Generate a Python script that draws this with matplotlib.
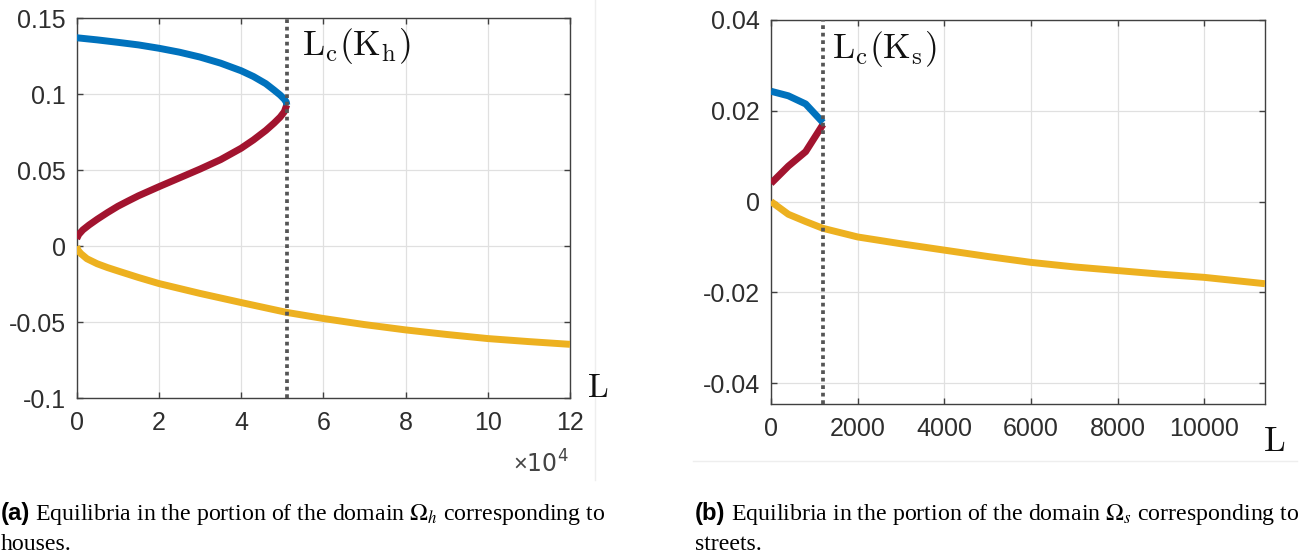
import matplotlib
matplotlib.use("Agg")
import matplotlib.pyplot as plt
from matplotlib.ticker import FixedLocator

plt.rcParams['mathtext.fontset'] = 'custom'
plt.rcParams['mathtext.rm'] = 'Liberation Sans'
plt.rcParams['mathtext.it'] = 'Liberation Sans:italic'

# ---------------- data: panel (a) houses ----------------
Lc_h = 51100
h_stable_L = [0, 5000, 10000, 15000, 20000, 25000, 30000, 35000, 40000, 43000,
              46000, 48000, 49500, 50500, 51000, 51100]
h_stable_u = [0.1372, 0.1358, 0.1342, 0.1325, 0.1303, 0.1277, 0.1245, 0.1205,
              0.1155, 0.1117, 0.107, 0.1028, 0.0995, 0.0968, 0.0948, 0.093]
h_unstable_L = [0, 500, 1500, 3000, 5000, 7500, 10000, 12500, 15000, 20000, 25000,
                30000, 35000, 40000, 43000, 46000, 48000, 49500, 50500, 51100]
h_unstable_u = [0.005, 0.0078, 0.0108, 0.0140, 0.0178, 0.0222, 0.0263, 0.0298,
                0.0332, 0.0392, 0.0450, 0.0508, 0.0570, 0.0645, 0.0700, 0.0762,
                0.0810, 0.0850, 0.0885, 0.093]
h_neg_L = [0, 300, 1000, 2500, 5000, 7500, 10000, 15000, 20000, 30000, 40000,
           51100, 60000, 70000, 80000, 90000, 100000, 110000, 120000]
h_neg_u = [0, -0.0025, -0.0048, -0.0082, -0.0115, -0.0140, -0.0162, -0.0205,
           -0.0245, -0.031, -0.037, -0.0435, -0.0475, -0.0515, -0.0550, -0.0580,
           -0.0607, -0.0627, -0.0645]
h_xticks = [0, 20000, 40000, 60000, 80000, 100000, 120000]
h_xticklabels = ['0', '2', '4', '6', '8', '10', '12']
h_yticks = [-0.1, -0.05, 0, 0.05, 0.1, 0.15]
h_yticklabels = ['-0.1', '-0.05', '0', '0.05', '0.1', '0.15']

# ---------------- data: panel (b) streets ----------------
Lc_s = 1200
s_stable_L = [0, 400, 800, 1200]
s_stable_u = [0.0243, 0.0233, 0.0215, 0.0174]
s_unstable_L = [0, 400, 800, 1200]
s_unstable_u = [0.004, 0.0078, 0.011, 0.0170]
s_neg_L = [0, 400, 800, 1200, 2000, 3000, 4000, 5000, 6000, 7000, 8000, 9000,
           10000, 11400]
s_neg_u = [0, -0.0028, -0.0044, -0.0059, -0.0078, -0.0093, -0.0107, -0.0121,
           -0.0134, -0.0144, -0.0152, -0.0160, -0.0167, -0.0181]
s_xticks = [0, 2000, 4000, 6000, 8000, 10000]
s_xticklabels = ['0', '2000', '4000', '6000', '8000', '10000']
s_yticks = [-0.04, -0.02, 0, 0.02, 0.04]
s_yticklabels = ['-0.04', '-0.02', '0', '0.02', '0.04']

BLUE = '#0072BD'
RED = '#A2142F'
YEL = '#EDB120'
TXT = '#2e2e2e'

W, H = 1300, 558
fig = plt.figure(figsize=(W / 100, H / 100), dpi=100)


def px_axes(x0, x1, ytop, ybot):
    return fig.add_axes([x0 / W, 1 - ybot / H, (x1 - x0) / W, (ybot - ytop) / H])


def style(ax, xt, xtl, yt, ytl, fs):
    ax.xaxis.set_major_locator(FixedLocator(xt))
    ax.set_xticklabels(xtl)
    ax.yaxis.set_major_locator(FixedLocator(yt))
    ax.set_yticklabels(ytl)
    ax.tick_params(direction='in', length=4, width=1, colors='#404040',
                   labelcolor=TXT, labelsize=fs, top=True, right=True,
                   labelfontfamily='Liberation Sans')
    ax.tick_params(axis='x', pad=9)
    ax.tick_params(axis='y', pad=8)
    for sp in ax.spines.values():
        sp.set_color('#404040')
        sp.set_linewidth(1.0)
    ax.grid(True, color='#e0e0e0', linewidth=0.9)
    ax.set_axisbelow(True)


lw = 5
# ---- panel (a)
ax1 = px_axes(76.7, 570, 18.3, 398.3)
ax1.plot(h_neg_L, h_neg_u, color=YEL, lw=lw, solid_capstyle='butt', zorder=3)
ax1.plot(h_unstable_L, h_unstable_u, color=RED, lw=lw, solid_capstyle='butt', zorder=3)
ax1.plot(h_stable_L, h_stable_u, color=BLUE, lw=lw, solid_capstyle='butt', zorder=3)
ax1.axvline(Lc_h, color='#555555', lw=2.7, linestyle=(0, (1, 1)), zorder=4)
ax1.set_xlim(0, 120000)
ax1.set_ylim(-0.1, 0.15)
style(ax1, h_xticks, h_xticklabels, h_yticks, h_yticklabels, 18)
ax1.text(54700, 0.1259, r'$\mathrm{L_c(K_h)}$', math_fontfamily='cm',
         fontsize=25.5, color='#111111', va='baseline', ha='left', zorder=5)

# ---- panel (b)
ax2 = px_axes(771, 1265, 20, 404)
ax2.plot(s_neg_L, s_neg_u, color=YEL, lw=lw, solid_capstyle='butt', zorder=3)
ax2.plot(s_unstable_L, s_unstable_u, color=RED, lw=lw, solid_capstyle='butt', zorder=3)
ax2.plot(s_stable_L, s_stable_u, color=BLUE, lw=lw, solid_capstyle='butt', zorder=3)
ax2.axvline(Lc_s, color='#555555', lw=2.7, linestyle=(0, (1, 1)), zorder=4)
ax2.set_xlim(0, 11400)
ax2.set_ylim(-0.0446, 0.04)
style(ax2, s_xticks, s_xticklabels, s_yticks, s_yticklabels, 18)
ax2.text(1400, 0.0316, r'$\mathrm{L_c(K_s)}$', math_fontfamily='cm',
         fontsize=25.5, color='#111111', va='baseline', ha='left', zorder=5)

# axis "L" labels
fig.text(587 / W, 1 - 397 / H, r'$\mathrm{L}$', math_fontfamily='cm',
         fontsize=24, color='#111111', va='baseline', ha='left')
fig.text(1263 / W, 1 - 451 / H, r'$\mathrm{L}$', math_fontfamily='cm',
         fontsize=25, color='#111111', va='baseline', ha='left')

# x10^4 multiplier
fig.text(569 / W, 1 - 473 / H, r'$\times\mathregular{10^{4}}$', fontsize=17,
         color='#444444', va='baseline', ha='right')

# faint image borders
fig.add_artist(plt.Line2D([595 / W, 595 / W], [1 - 480 / H, 1.0],
                          color='#eeeeee', lw=1.0))
fig.add_artist(plt.Line2D([693 / W, 1297 / W], [1 - 461 / H, 1 - 461 / H],
                          color='#eeeeee', lw=1.0))

# captions
fig.canvas.draw()
renderer = fig.canvas.get_renderer()
cap_fs = 17.2


def caption(x_px, tag, line1, line2):
    y1 = 1 - 520 / H
    y2 = 1 - 550 / H
    t = fig.text(x_px / W, y1, tag, fontsize=cap_fs, fontweight='bold',
                 family='Liberation Sans', color='black', va='baseline')
    bb = t.get_window_extent(renderer)
    fig.text((bb.x1 + 5) / W, y1, line1, fontsize=cap_fs,
             family='Liberation Serif', math_fontfamily='stix',
             color='black', va='baseline')
    fig.text(x_px / W, y2, line2, fontsize=cap_fs, family='Liberation Serif',
             color='black', va='baseline')


caption(1, '(a)', r'Equilibria in the portion of the domain $\Omega_h$ corresponding to',
        'houses.')
caption(695, '(b)', r'Equilibria in the portion of the domain $\Omega_s$ corresponding to',
        'streets.')

fig.savefig('out.png', dpi=100)
